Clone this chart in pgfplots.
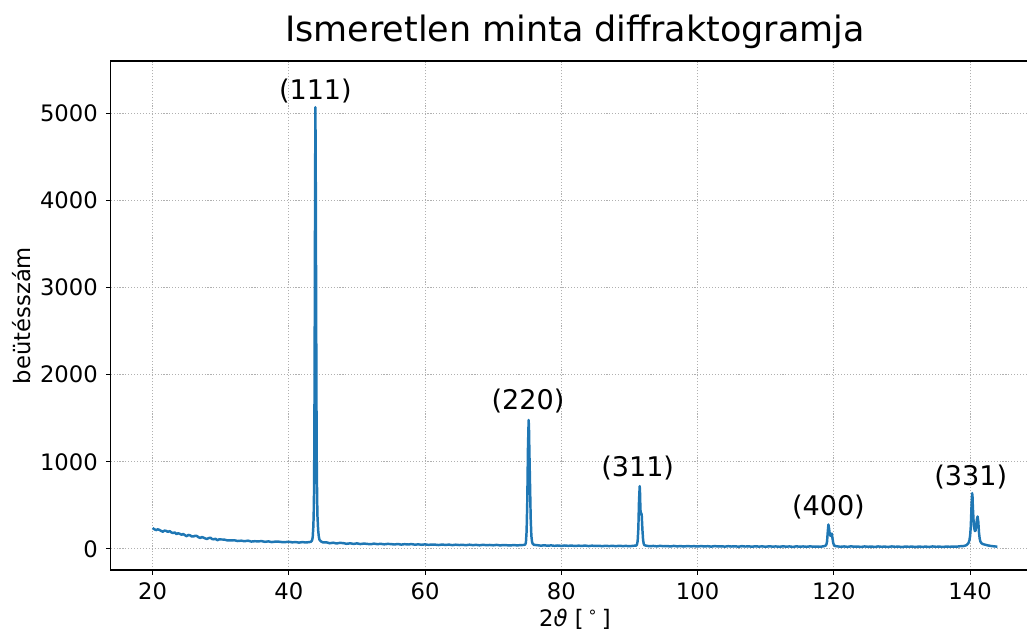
\documentclass[border=0pt]{standalone}
\usepackage{fontspec}
\setmainfont{DejaVu Sans}
\usepackage{pgfplots}
\pgfplotsset{compat=1.18}
\definecolor{mplblue}{HTML}{1F77B4}
\definecolor{gridgray}{HTML}{B0B0B0}
\begin{document}
\begin{tikzpicture}
\begin{axis}[
  at={(0,0)}, anchor=south west,
  scale only axis, width=696.4pt, height=381.75pt,
  xmin=13.85, xmax=150.15, ymin=-243, ymax=5600,
  xtick={20,40,60,80,100,120,140},
  ytick={0,1000,2000,3000,4000,5000},
  scaled y ticks=false,
  /pgf/number format/assume math mode=true,
  /pgf/number format/1000 sep={},
  tick align=outside, xtick pos=lower, ytick pos=left,
  major tick length=3.6pt,
  every tick/.style={black, line width=0.83pt},
  axis line style={black, line width=0.83pt},
  tick label style={font=\fontsize{17}{20}\selectfont, inner sep=0pt},
  xticklabel style={anchor=north, yshift=-5.9pt},
  yticklabel style={anchor=east, xshift=-5.9pt},
  grid=major,
  major grid style={gridgray, line width=0.83pt, dash pattern=on 0.83pt off 1.37pt},
  clip=false,
]
\addplot[mplblue, line width=1.85pt, line join=round] coordinates {
(20.0,239)(20.25,226)(20.5,215)(20.75,224)(21.0,218)(21.25,206)(21.5,197)(21.75,210)(22.0,206)(22.25,195)(22.5,204)(22.75,190)(23.0,181)(23.25,189)(23.5,169)(23.75,180)(24.0,172)(24.25,162)(24.5,171)(24.75,157)
(25.0,145)(25.25,160)(25.5,156)(25.75,142)(26.0,143)(26.25,150)(26.5,148)(26.75,133)(27.0,126)(27.25,136)(27.5,128)(27.75,119)(28.0,114)(28.25,124)(28.5,128)(28.75,112)(29.0,110)(29.25,116)(29.5,99)(29.75,109)
(30.0,108)(30.5,107)(31.0,97)(31.5,98)(32.0,99)(32.5,90)(33.0,94)(33.5,88)(34.0,94)(34.5,84)
(35.0,88)(35.5,86)(36.0,89)(36.5,81)(37.0,86)(37.5,78)(38.0,83)(38.5,83)(39.0,78)(39.5,78)
(40.0,82)(40.5,75)(41.0,78)(41.5,72)(42.0,78)(42.5,73)(43.0,78)
(43.2,80)(43.4,95)(43.5,130)(43.6,260)(43.65,400)(43.7,650)(43.75,1300)(43.8,2500)(43.85,4000)
(43.9,5070)(43.95,4300)(44.0,3000)(44.05,1800)(44.1,1000)(44.15,600)(44.2,380)(44.3,220)
(44.4,140)(44.5,105)(44.7,86)(45.0,74)
(45.5,76)(46.0,64)(46.5,71)(47.0,62)(47.5,69)(48.0,66)(48.5,58)(49.0,64)(49.5,57)
(50.0,63)(50.5,55)(51.0,61)(51.5,57)(52.0,53)(52.5,60)(53.0,54)(53.5,58)(54.0,52)(54.5,57)
(55.0,55)(55.5,50)(56.0,56)(56.5,49)(57.0,54)(57.5,50)(58.0,55)(58.5,48)(59.0,52)(59.5,47)
(60.0,52)(60.5,46)(61.0,50)(61.5,48)(62.0,44)(62.5,50)(63.0,45)(63.5,49)(64.0,43)(64.5,48)
(65.0,44)(65.5,47)(66.0,42)(66.5,48)(67.0,43)(67.5,46)(68.0,41)(68.5,47)(69.0,42)(69.5,45)
(70.0,41)(70.5,46)(71.0,40)(71.5,44)(72.0,42)(72.5,39)(73.0,44)(73.5,40)(74.0,43)(74.5,45)
(74.7,50)(74.8,75)(74.9,200)(75.0,550)(75.1,1150)(75.2,1480)(75.25,1380)(75.3,1150)
(75.4,750)(75.5,350)(75.6,150)(75.7,80)(75.8,58)(76.0,46)
(76.5,42)(77.0,37)(77.5,41)(78.0,36)(78.5,40)(79.0,35)(79.5,39)
(80.0,34)(80.5,39)(81.0,35)(81.5,38)(82.0,33)(82.5,37)(83.0,34)(83.5,38)(84.0,32)(84.5,37)
(85.0,33)(85.5,36)(86.0,31)(86.5,36)(87.0,32)(87.5,35)(88.0,31)(88.5,36)(89.0,32)(89.5,34)
(90.0,30)(90.5,35)(91.0,38)
(91.1,50)(91.2,90)(91.3,230)(91.4,550)(91.5,720)(91.55,640)(91.6,470)(91.65,400)(91.7,405)
(91.75,410)(91.8,380)(91.9,220)(92.0,100)(92.1,55)(92.2,42)
(92.5,36)(93.0,30)(93.5,34)(94.0,29)(94.5,35)(95.0,30)(95.5,33)(96.0,28)(96.5,34)(97.0,29)
(97.5,32)(98.0,27)(98.5,33)(99.0,29)(99.5,31)(100.0,27)(100.5,32)(101.0,28)(101.5,31)(102.0,26)
(102.5,32)(103.0,28)(103.5,30)(104.0,26)(104.5,31)(105.0,27)(105.5,30)(106.0,25)(106.5,31)
(107.0,27)(107.5,29)(108.0,25)(108.5,30)(109.0,26)(109.5,29)(110.0,24)(110.5,30)(111.0,26)
(111.5,28)(112.0,24)(112.5,29)(113.0,26)(113.5,28)(114.0,23)(114.5,29)(115.0,25)(115.5,28)
(116.0,24)(116.5,29)(117.0,25)(117.5,27)(118.0,24)(118.5,30)
(118.8,38)(118.9,50)(119.0,85)(119.1,190)(119.2,280)(119.3,230)(119.4,165)(119.5,150)
(119.6,165)(119.7,175)(119.8,120)(119.9,70)(120.0,45)(120.2,32)
(120.5,29)(121.0,24)(121.5,28)(122.0,23)(122.5,29)(123.0,25)(123.5,27)(124.0,22)(124.5,28)
(125.0,24)(125.5,27)(126.0,22)(126.5,28)(127.0,24)(127.5,26)(128.0,22)(128.5,28)(129.0,24)
(129.5,26)(130.0,21)(130.5,27)(131.0,24)(131.5,26)(132.0,22)(132.5,27)(133.0,23)(133.5,26)
(134.0,22)(134.5,28)(135.0,24)(135.5,26)(136.0,22)(136.5,27)(137.0,24)(137.5,27)(138.0,25)
(138.5,30)(139.0,32)
(139.3,38)(139.5,45)(139.7,60)(139.8,75)(139.9,100)(140.0,150)(140.1,260)(140.2,480)
(140.3,640)(140.35,600)(140.4,480)(140.5,330)(140.6,240)(140.7,205)(140.8,210)(140.9,270)
(141.0,340)(141.1,372)(141.2,310)(141.3,190)(141.4,120)(141.5,85)(141.7,62)(142.0,52)
(142.3,46)(142.6,40)(143.0,34)(143.3,31)(143.6,28)(144.0,26)
};
\begin{scope}[every node/.style={anchor=south, inner sep=0pt, font=\fontsize{20.3}{24}\selectfont}]
\node at (axis cs:43.9,5110) {(111)};
\node at (axis cs:75.1,1555) {(220)};
\node at (axis cs:91.2,790) {(311)};
\node at (axis cs:119.2,340) {(400)};
\node at (axis cs:140.1,685) {(331)};
\end{scope}
\end{axis}
\node[anchor=base, inner sep=0pt, font=\fontsize{26.2}{31}\selectfont] at (348.2pt,396.25pt) {Ismeretlen minta diffraktogramja};
\node[anchor=center, inner sep=0pt, rotate=90, font=\fontsize{17}{20}\selectfont] at (-66.5pt,190.9pt) {beütésszám};
\node[anchor=center, inner sep=0pt, font=\fontsize{17}{20}\selectfont] at (348.2pt,-36.75pt) {2\textit{ϑ} [\,\textsuperscript{∘}\,]};
\pgfresetboundingbox
\useasboundingbox (-83pt,-47.25pt) rectangle (687.2pt,427.5pt);
\end{tikzpicture}
\end{document}
